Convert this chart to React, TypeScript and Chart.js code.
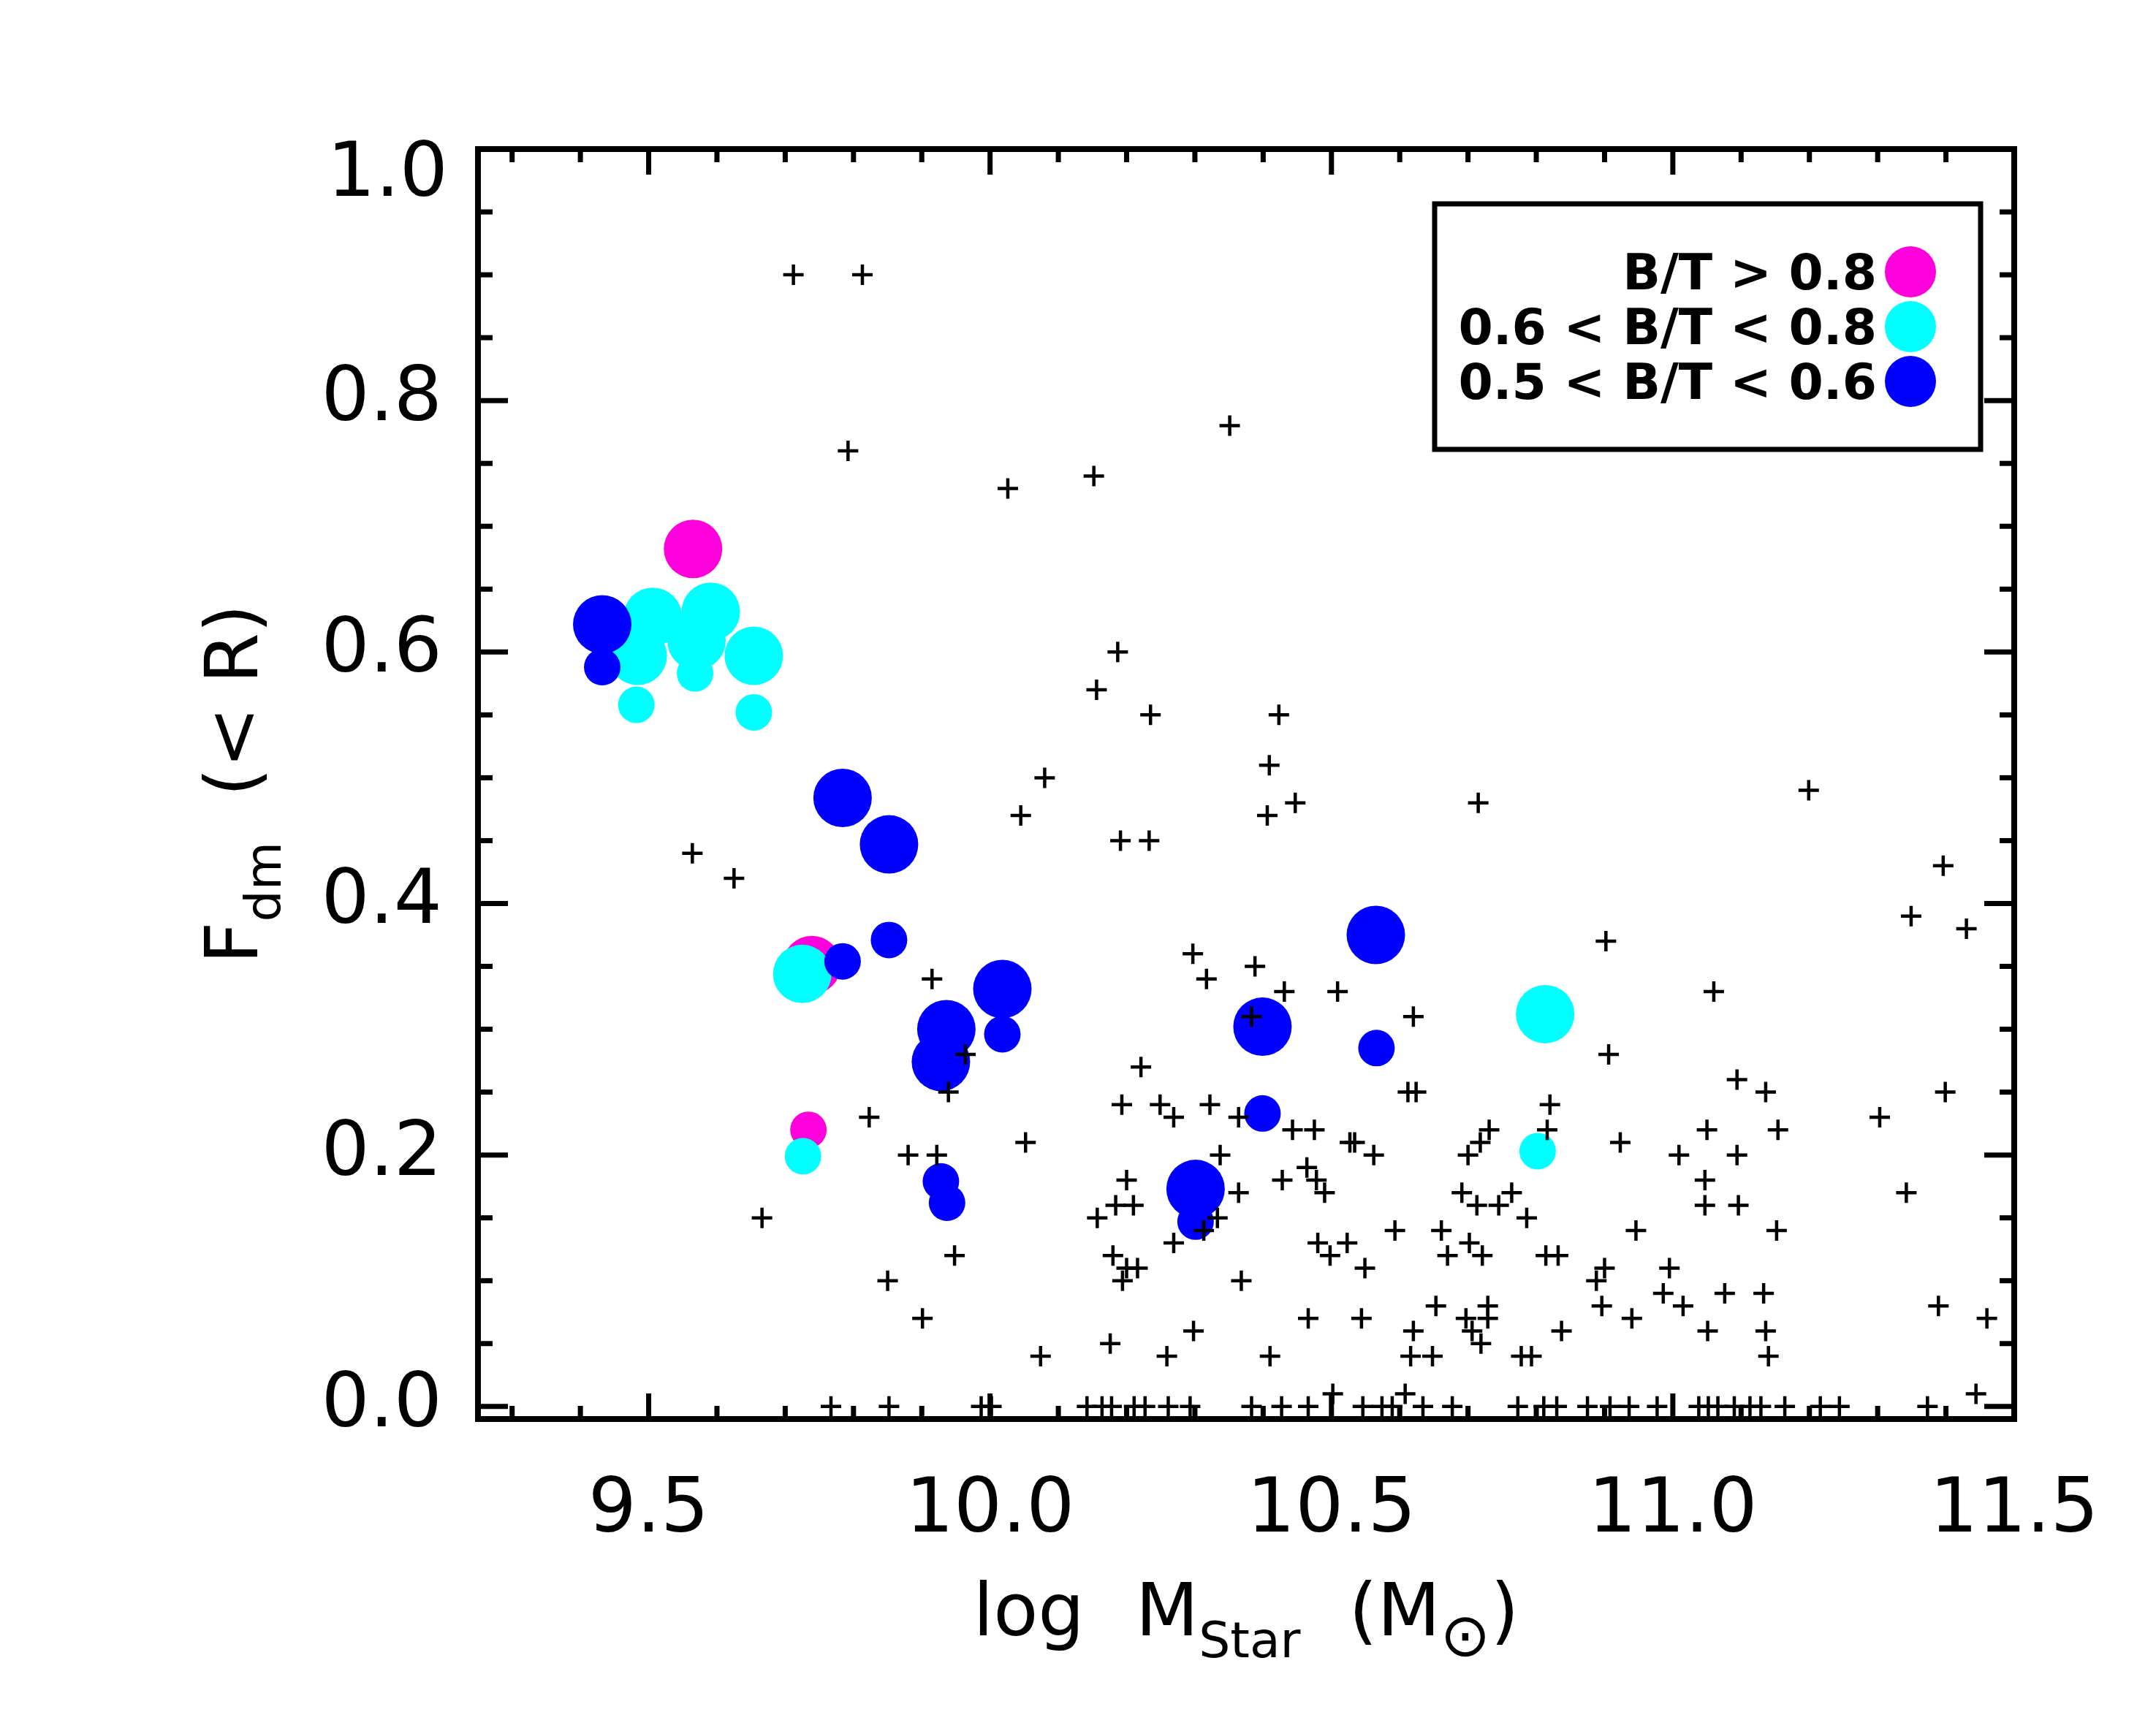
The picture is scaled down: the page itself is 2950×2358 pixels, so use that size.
import React, { useEffect, useRef } from 'react';
import { Chart, registerables } from 'chart.js';

Chart.register(...registerables);

const FONT = '"DejaVu Sans", "Liberation Sans", sans-serif';

// ---------------- data ----------------
const xTickLabels = [9.5, 10.0, 10.5, 11.0, 11.5];
const yTickLabels = [0.0, 0.2, 0.4, 0.6, 0.8, 1.0];
const legendLabels = ['B/T > 0.8', '0.6 < B/T < 0.8', '0.5 < B/T < 0.6'];
const legendColors = ['#ff00dc', '#00ffff', '#0000ff'];

// all galaxies (plus symbols): [log Mstar, Fdm]
const crossPts: [number, number][] = [
  [9.712, 0.90], [9.813, 0.90],
  [10.351, 0.78], [9.792, 0.76], [10.152, 0.74], [10.026, 0.73],
  [10.187, 0.60], [10.156, 0.57], [10.235, 0.55], [10.423, 0.55],
  [10.409, 0.51], [10.080, 0.50], [11.199, 0.49],
  [10.447, 0.48], [10.715, 0.48], [10.045, 0.47], [10.406, 0.47],
  [10.191, 0.45], [10.233, 0.45], [9.564, 0.44], [11.396, 0.43], [9.625, 0.42],
  [11.349, 0.39], [11.430, 0.38], [10.902, 0.37], [10.297, 0.36], [10.388, 0.35],
  [9.915, 0.34], [10.317, 0.34], [10.431, 0.33], [10.509, 0.33], [11.060, 0.33],
  [10.383, 0.31], [10.620, 0.31],
  [9.964, 0.28], [10.906, 0.28], [10.221, 0.27], [11.094, 0.26],
  [9.939, 0.25], [10.612, 0.25], [10.624, 0.25], [11.136, 0.25], [11.399, 0.25],
  [10.193, 0.24], [10.249, 0.24], [10.322, 0.24], [10.820, 0.24],
  [9.823, 0.23], [10.269, 0.23], [10.364, 0.23], [11.303, 0.23],
  [10.443, 0.22], [10.475, 0.22], [10.731, 0.22], [10.816, 0.22], [11.050, 0.22], [11.154, 0.22],
  [10.052, 0.21], [10.527, 0.21], [10.534, 0.21], [10.718, 0.21], [10.923, 0.21],
  [9.880, 0.20], [9.922, 0.20], [10.337, 0.20], [10.562, 0.20], [10.700, 0.20], [11.009, 0.20], [11.094, 0.20],
  [10.464, 0.19],
  [10.200, 0.18], [10.428, 0.18], [10.478, 0.18], [11.047, 0.18],
  [10.364, 0.17], [10.490, 0.17], [10.691, 0.17], [10.764, 0.17], [11.342, 0.17],
  [10.184, 0.16], [10.210, 0.16], [10.713, 0.16], [10.745, 0.16], [11.047, 0.16], [11.096, 0.16],
  [9.666, 0.15], [10.157, 0.15], [10.333, 0.15], [10.786, 0.15],
  [10.313, 0.14], [10.593, 0.14], [10.661, 0.14], [10.946, 0.14], [11.152, 0.14],
  [10.269, 0.13], [10.480, 0.13], [10.523, 0.13], [10.702, 0.13],
  [9.948, 0.12], [10.180, 0.12], [10.498, 0.12], [10.670, 0.12], [10.721, 0.12], [10.814, 0.12], [10.832, 0.12],
  [10.200, 0.11], [10.216, 0.11], [10.549, 0.11], [10.900, 0.11], [10.995, 0.11],
  [9.850, 0.10], [10.194, 0.10], [10.368, 0.10], [10.888, 0.10],
  [10.986, 0.09], [11.076, 0.09], [11.133, 0.09],
  [10.653, 0.08], [10.729, 0.08], [10.896, 0.08], [11.015, 0.08], [11.389, 0.08],
  [9.901, 0.07], [10.466, 0.07], [10.544, 0.07], [10.697, 0.07], [10.729, 0.07], [10.940, 0.07], [11.460, 0.07],
  [10.298, 0.06], [10.620, 0.06], [10.706, 0.06], [10.837, 0.06], [11.051, 0.06], [11.136, 0.06],
  [10.176, 0.05], [10.719, 0.05],
  [10.074, 0.04], [10.259, 0.04], [10.410, 0.04], [10.616, 0.04], [10.648, 0.04], [10.778, 0.04], [10.793, 0.04], [11.140, 0.04],
  [10.502, 0.01], [10.608, 0.01], [11.444, 0.01],
  [9.767, 0.0], [9.852, 0.0], [9.987, 0.0], [10.002, 0.0], [10.142, 0.0], [10.164, 0.0], [10.178, 0.0],
  [10.211, 0.0], [10.227, 0.0], [10.261, 0.0], [10.293, 0.0], [10.383, 0.0], [10.427, 0.0], [10.466, 0.0],
  [10.546, 0.0], [10.574, 0.0], [10.589, 0.0], [10.634, 0.0], [10.677, 0.0], [10.773, 0.0], [10.811, 0.0],
  [10.830, 0.0], [10.875, 0.0], [10.908, 0.0], [10.936, 0.0], [10.977, 0.0], [11.038, 0.0], [11.052, 0.0],
  [11.066, 0.0], [11.090, 0.0], [11.113, 0.0], [11.129, 0.0], [11.164, 0.0], [11.216, 0.0], [11.244, 0.0],
  [11.373, 0.0],
];

// B/T > 0.8 (magenta)
const magentaLargePts: [number, number][] = [[9.565, 0.682], [9.739, 0.351]];
const magentaSmallPts: [number, number][] = [[9.734, 0.220]];
// 0.6 < B/T < 0.8 (cyan)
const cyanLargePts: [number, number][] = [
  [9.506, 0.628], [9.484, 0.597], [9.591, 0.632], [9.570, 0.609], [9.654, 0.597],
  [9.725, 0.344], [10.813, 0.312],
];
const cyanSmallPts: [number, number][] = [
  [9.482, 0.558], [9.568, 0.583], [9.654, 0.552], [9.726, 0.199], [10.802, 0.203],
];
// 0.5 < B/T < 0.6 (blue)
const blueLargePts: [number, number][] = [
  [9.432, 0.622], [9.784, 0.484], [9.852, 0.447], [10.018, 0.332], [9.936, 0.300],
  [9.928, 0.274], [10.399, 0.302], [10.301, 0.173], [10.565, 0.375],
];
const blueSmallPts: [number, number][] = [
  [9.432, 0.588], [9.852, 0.371], [9.784, 0.354], [10.018, 0.296], [9.928, 0.179],
  [9.937, 0.162], [10.301, 0.147], [10.399, 0.233], [10.566, 0.285],
];

// ---------------- helpers ----------------
const toXY = (pts: [number, number][]) => pts.map(([x, y]) => ({ x, y }));
const fmt = (v: number) => v.toFixed(1);

type Seg = { text: string; size: number; dy?: number; gap?: number };

function drawRich(ctx: CanvasRenderingContext2D, segs: Seg[], cx: number, baseY: number) {
  const widths = segs.map((s) => {
    ctx.font = `${s.size}px ${FONT}`;
    return ctx.measureText(s.text).width;
  });
  const total = widths.reduce((a, b) => a + b, 0) + segs.reduce((a, s) => a + (s.gap || 0), 0);
  let x = cx - total / 2;
  ctx.textAlign = 'left';
  ctx.textBaseline = 'alphabetic';
  segs.forEach((s, i) => {
    x += s.gap || 0;
    ctx.font = `${s.size}px ${FONT}`;
    ctx.fillText(s.text, x, baseY + (s.dy || 0));
    x += widths[i];
  });
}

const framePlugin = {
  id: 'idlFrame',
  afterDatasetsDraw(chart: any) {
    const { ctx, chartArea: a, scales } = chart;
    const xs = scales.x;
    const ys = scales.y;
    ctx.save();
    ctx.strokeStyle = '#000';
    ctx.lineCap = 'butt';
    ctx.lineWidth = 7;
    const line = (x1: number, y1: number, x2: number, y2: number) => {
      ctx.beginPath();
      ctx.moveTo(x1, y1);
      ctx.lineTo(x2, y2);
      ctx.stroke();
    };
    // inward ticks on all four sides
    for (let i = 93; i <= 115; i++) {
      const v = i / 10;
      if (v < xs.min || v > xs.max) continue;
      const major = i % 5 === 0;
      const len = major ? 35 : 18;
      const px = xs.getPixelForValue(v);
      line(px, a.bottom, px, a.bottom - len);
      line(px, a.top, px, a.top + len);
    }
    for (let i = 0; i <= 20; i++) {
      const v = i * 0.05;
      const major = i % 4 === 0;
      const len = major ? 41 : 20;
      const py = ys.getPixelForValue(v);
      line(a.left, py, a.left + len, py);
      line(a.right, py, a.right - len, py);
    }
    ctx.lineWidth = 8;
    ctx.lineJoin = 'miter';
    ctx.strokeRect(a.left, a.top, a.right - a.left, a.bottom - a.top);
    ctx.restore();
  },
  afterDraw(chart: any) {
    const { ctx, chartArea: a, scales } = chart;
    const ys = scales.y;
    ctx.save();
    ctx.fillStyle = '#000';
    // top y tick label sits inside the frame height (IDL style)
    const top = yTickLabels[yTickLabels.length - 1];
    ctx.font = `104px ${FONT}`;
    ctx.textAlign = 'right';
    ctx.textBaseline = 'middle';
    ctx.fillText(fmt(top), a.left - 41, ys.getPixelForValue(top) + 37);
    // x title
    const cx = (a.left + a.right) / 2;
    drawRich(
      ctx,
      [
        { text: 'log', size: 100 },
        { text: 'M', size: 100, gap: 70 },
        { text: 'Star', size: 68, dy: 30 },
        { text: '(', size: 100, gap: 66 },
        { text: 'M', size: 100 },
        { text: '\u2299', size: 82, dy: 28 },
        { text: ')', size: 100 },
      ],
      cx,
      2238
    );
    // y title (rotated)
    ctx.save();
    ctx.translate(352, (a.top + a.bottom) / 2);
    ctx.rotate(-Math.PI / 2);
    drawRich(
      ctx,
      [
        { text: 'F', size: 100 },
        { text: 'dm', size: 68, dy: 32 },
        { text: '(< R)', size: 100, gap: 62 },
      ],
      0,
      0
    );
    ctx.restore();
    // legend
    ctx.strokeStyle = '#000';
    ctx.lineWidth = 7;
    ctx.strokeRect(1963, 279, 2710 - 1963, 615 - 279);
    ctx.font = `bold 68px ${FONT}`;
    ctx.textAlign = 'right';
    ctx.textBaseline = 'alphabetic';
    legendLabels.forEach((lab, i) => {
      const base = 396 + i * 75;
      ctx.fillStyle = '#000';
      ctx.fillText(lab, 2568, base);
      ctx.fillStyle = legendColors[i];
      ctx.beginPath();
      ctx.arc(2614, base - 24, 35, 0, Math.PI * 2);
      ctx.fill();
    });
    ctx.restore();
  },
};

function circleSet(label: string, pts: [number, number][], color: string, r: number) {
  return {
    label,
    data: toXY(pts),
    pointStyle: 'circle',
    pointRadius: r,
    pointHoverRadius: r,
    pointBackgroundColor: color,
    pointBorderColor: color,
    pointBorderWidth: 0,
    showLine: false,
    clip: false,
  };
}

export default function App() {
  const ref = useRef<HTMLCanvasElement>(null);
  useEffect(() => {
    document.body.style.margin = '0';
    const canvas = ref.current!;
    const chart = new Chart(canvas, {
      type: 'scatter',
      data: {
        datasets: [
          {
            label: 'all',
            data: toXY(crossPts),
            pointStyle: 'cross',
            pointRadius: 14,
            pointHoverRadius: 14,
            pointBorderColor: '#000',
            pointBackgroundColor: '#000',
            pointBorderWidth: 4.5,
            showLine: false,
            clip: false,
          } as any,
          circleSet(legendLabels[2], blueLargePts, legendColors[2], 40) as any,
          circleSet(legendLabels[2] + ' (inner)', blueSmallPts, legendColors[2], 25) as any,
          circleSet(legendLabels[1], cyanLargePts, legendColors[1], 40) as any,
          circleSet(legendLabels[1] + ' (inner)', cyanSmallPts, legendColors[1], 25) as any,
          circleSet(legendLabels[0], magentaLargePts, legendColors[0], 40) as any,
          circleSet(legendLabels[0] + ' (inner)', magentaSmallPts, legendColors[0], 25) as any,
        ],
      },
      options: {
        responsive: false,
        devicePixelRatio: 1,
        animation: false,
        events: [],
        layout: { padding: { left: 0, right: 194, top: 204, bottom: 0 }, autoPadding: false },
        plugins: {
          legend: { display: false },
          tooltip: { enabled: false },
          title: { display: false },
        },
        scales: {
          x: {
            type: 'linear',
            min: 9.25,
            max: 11.5,
            grid: { display: false },
            border: { display: false },
            afterBuildTicks: (s: any) => {
              s.ticks = xTickLabels.map((v) => ({ value: v }));
            },
            afterFit: (s: any) => {
              s.height = 416;
            },
            ticks: {
              autoSkip: false,
              maxRotation: 0,
              minRotation: 0,
              padding: 57,
              color: '#000',
              font: { family: FONT, size: 104 },
              callback: (v: any) => fmt(Number(v)),
            },
          },
          y: {
            type: 'linear',
            min: -0.01,
            max: 1.0,
            grid: { display: false },
            border: { display: false },
            afterBuildTicks: (s: any) => {
              s.ticks = yTickLabels.map((v) => ({ value: v }));
            },
            afterFit: (s: any) => {
              s.width = 654;
            },
            ticks: {
              autoSkip: false,
              padding: 41,
              color: '#000',
              font: { family: FONT, size: 104 },
              // the top label is drawn by the frame plugin, shifted inside like IDL does
              callback: (v: any) => (Number(v) === yTickLabels[yTickLabels.length - 1] ? '' : fmt(Number(v))),
            },
          },
        },
      } as any,
      plugins: [framePlugin as any],
    });
    return () => chart.destroy();
  }, []);
  return (
    <div style={{ width: 2950, height: 2358, background: '#fff' }}>
      <canvas ref={ref} width={2950} height={2358} style={{ display: 'block', width: 2950, height: 2358 }} />
    </div>
  );
}
